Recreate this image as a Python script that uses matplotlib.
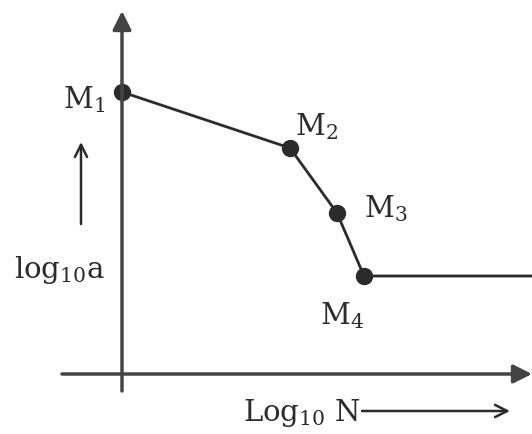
import matplotlib
matplotlib.use("Agg")
from matplotlib import pyplot as plt

plt.rcParams["mathtext.fontset"] = "dejavuserif"

# break points of the curve (axes cross at the origin)
log_n = [0, 168, 215, 242]
log_a = [282, 226, 161, 98]
labels = [r"M$_1$", r"M$_2$", r"M$_3$", r"M$_4$"]
plateau_end = 410

INK = "#2b2b2b"
AXIS = "#444444"
FONT = "DejaVu Serif"
SIZE = 21

fig = plt.figure(figsize=(5.32, 4.35), dpi=100)
ax = fig.add_axes([0, 0, 1, 1])
ax.set_xlim(-122, 410)
ax.set_ylim(-60, 375)
ax.axis("off")

# axes with filled heads
ax.annotate("", xy=(410, 0), xytext=(-60, 0),
            arrowprops=dict(arrowstyle="-|>", color=AXIS, lw=2.5,
                            mutation_scale=28, shrinkA=0, shrinkB=0))
ax.annotate("", xy=(0, 363), xytext=(0, -17),
            arrowprops=dict(arrowstyle="-|>", color=AXIS, lw=2.5,
                            mutation_scale=28, shrinkA=0, shrinkB=0))

# curve plus flat tail
ax.plot(log_n + [plateau_end], log_a + [log_a[-1]], color=INK, lw=2)
ax.plot(log_n, log_a, "o", color=INK, ms=11.5)

offsets = [(-38, -7), (26, 22), (49, 5), (-22, -39)]
for x, y, s, (dx, dy) in zip(log_n, log_a, labels, offsets):
    ax.text(x + dx, y + dy, s, fontsize=SIZE, family=FONT, color=INK,
            ha="center", va="center")

# axis titles with open arrows
ax.text(-62, 105, r"log$_{10}$a", fontsize=SIZE, family=FONT, color=INK,
        ha="center", va="center")
ax.annotate("", xy=(-41, 232), xytext=(-41, 150),
            arrowprops=dict(arrowstyle="->", color=INK, lw=1.8,
                            mutation_scale=22, shrinkA=0, shrinkB=0))
ax.text(180, -38, r"Log$_{10}$ N", fontsize=SIZE, family=FONT, color=INK,
        ha="center", va="center")
ax.annotate("", xy=(388, -37), xytext=(240, -37),
            arrowprops=dict(arrowstyle="->", color=INK, lw=1.8,
                            mutation_scale=22, shrinkA=0, shrinkB=0))

fig.savefig("out.png", dpi=100, facecolor="white")
